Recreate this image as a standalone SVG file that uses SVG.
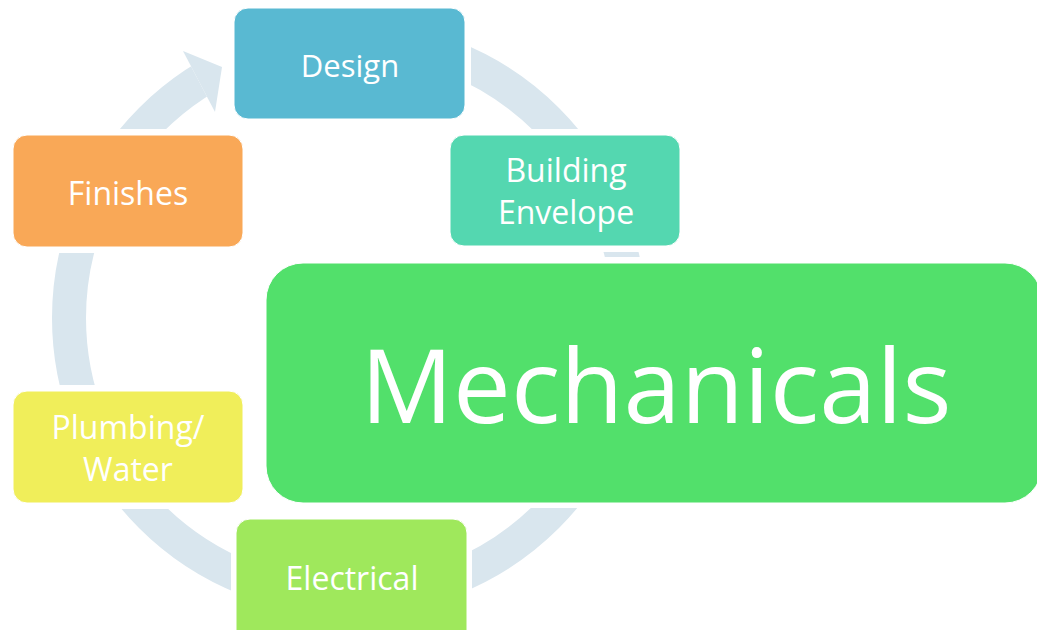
<svg xmlns="http://www.w3.org/2000/svg" width="1037" height="630" viewBox="0 0 1037 630">
  <style>
    .node rect { stroke: #ffffff; stroke-width: 1; }
    .lbl { font-family: "Open Sans", "Liberation Sans", sans-serif; fill: #ffffff; text-anchor: middle; font-size: 32px; }
    .big { font-size: 103px; }
    .ring { fill: none; stroke: #d9e6ee; stroke-width: 34; }
  </style>
  <defs>
    <mask id="ringMask" maskUnits="userSpaceOnUse" x="0" y="0" width="1037" height="630">
      <rect x="0" y="0" width="1037" height="630" fill="#fff"/>
      <g fill="#000">
        <rect x="228" y="2" width="243" height="123"/>
        <rect x="444" y="129" width="242" height="123"/>
        <rect x="7" y="129" width="242" height="124"/>
        <rect x="7" y="385" width="242" height="124"/>
        <rect x="231" y="513" width="241" height="137"/>
        <rect x="260" y="257" width="790" height="251"/>
        <polygon points="231,142.5 167,20.5 150,-20 360,-20 360,142.5"/>
      </g>
    </mask>
  </defs>
  <rect width="1037" height="630" fill="#ffffff"/>
  <g id="connectors">
    <circle class="ring" cx="349" cy="318" r="280" mask="url(#ringMask)"/>
    <polygon points="183,51 222,67 215,112" fill="#d9e6ee"/>
  </g>
  <g id="design" class="node">
    <rect x="234" y="8" width="231" height="111" rx="14" fill="#59b9d2"/>
    <text class="lbl" x="350" y="77" style="font-size:31px">Design</text>
  </g>
  <g id="building-envelope" class="node">
    <rect x="450" y="135" width="230" height="111" rx="14" fill="#54d7b0"/>
    <text class="lbl" x="566" y="182">Building</text>
    <text class="lbl" x="566" y="224">Envelope</text>
  </g>
  <g id="mechanicals" class="node">
    <rect x="266" y="263" width="776" height="240" rx="37" fill="#52e06b"/>
    <text class="lbl big" x="656" y="423">Mechanicals</text>
  </g>
  <g id="electrical" class="node">
    <rect x="236" y="519" width="231" height="125" rx="14" fill="#9fe85c"/>
    <text class="lbl" x="352" y="590">Electrical</text>
  </g>
  <g id="plumbing-water" class="node">
    <rect x="13" y="391" width="230" height="112" rx="14" fill="#f0ee5a"/>
    <text class="lbl" x="128" y="439">Plumbing/</text>
    <text class="lbl" x="128" y="481">Water</text>
  </g>
  <g id="finishes" class="node">
    <rect x="13" y="135" width="230" height="112" rx="14" fill="#f9a857"/>
    <text class="lbl" x="128" y="205">Finishes</text>
  </g>
</svg>
